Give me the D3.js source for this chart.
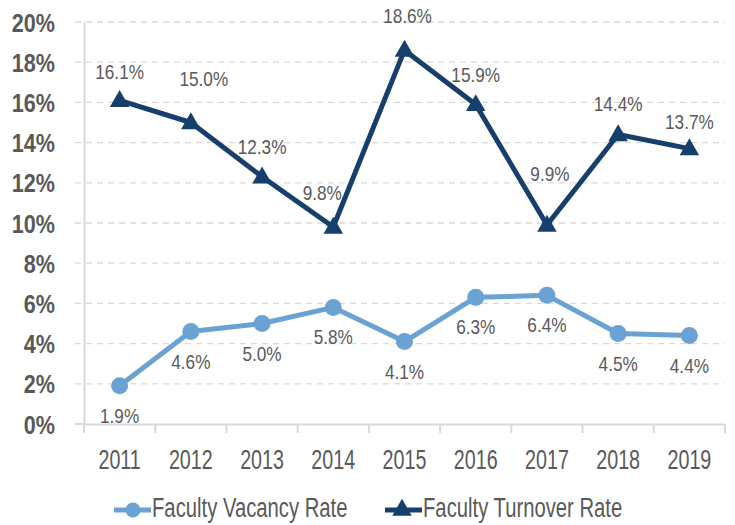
<!DOCTYPE html>
<html>
<head>
<meta charset="utf-8">
<script src="https://cdn.jsdelivr.net/npm/d3@7"></script>
<style>
  body { margin: 0; background: #fff; }
  text { font-family: "Liberation Sans", Arial, sans-serif; fill: #595959; }
</style>
</head>
<body>
<svg id="chart"></svg>
<script>
var years = ["2011", "2012", "2013", "2014", "2015", "2016", "2017", "2018", "2019"];
var vacancy = [1.9, 4.6, 5.0, 5.8, 4.1, 6.3, 6.4, 4.5, 4.4];
var turnover = [16.1, 15.0, 12.3, 9.8, 18.6, 15.9, 9.9, 14.4, 13.7];
var yTicks = [0, 2, 4, 6, 8, 10, 12, 14, 16, 18, 20];
var seriesNames = ["Faculty Vacancy Rate", "Faculty Turnover Rate"];

//hand-moved labels in the original (dx, dy in px)
var turnoverNudge = [[0, 1], [13, -15], [0, -1], [-11, -5], [3, -5], [0, 0], [3, -22], [0, -2], [0, 2]];

var screen = { width: 735, height: 525 };
var margins = { top: 22, bottom: 101, left: 84, right: 10 };
var graph = {
  width: screen.width - margins.left - margins.right,
  height: screen.height - margins.top - margins.bottom
};

var light = "#6aa2d3";
var dark = "#163f6c";
var grey = "#d9d9d9";

var svg = d3.select("#chart").attr("width", screen.width).attr("height", screen.height);
var g = svg.append("g").attr("transform", "translate(" + margins.left + "," + margins.top + ")");

var x = d3.scaleBand().domain(years).range([0, graph.width]);
var y = d3.scaleLinear().domain([0, 20]).range([graph.height, 0]);
var cx = function (i) { return x(years[i]) + x.bandwidth() / 2; };

//gridlines//
g.selectAll(".grid")
  .data(yTicks.slice(1))
  .enter()
  .append("line")
  .attr("x1", -9)
  .attr("x2", graph.width)
  .attr("y1", function (d) { return y(d); })
  .attr("y2", function (d) { return y(d); })
  .attr("stroke", grey)
  .attr("stroke-width", 1.3)
  .attr("stroke-dasharray", "6,5");

//y axis//
var ySx = 0.83;
var yAxis = d3.axisLeft(y).tickValues(yTicks).tickSize(0).tickPadding(29)
  .tickFormat(function (d) { return d + "%"; });
var yG = g.append("g").call(yAxis);
yG.select(".domain").attr("stroke", grey).attr("stroke-width", 2);
yG.selectAll("text")
  .style("font-size", "26px")
  .style("font-weight", "bold")
  .style("font-family", null)
  .attr("fill", "#595959")
  .attr("dy", "0.35em")
  .attr("x", -29 / ySx)
  .attr("transform", "scale(" + ySx + ",1)");
g.append("line").attr("x1", -9).attr("x2", 0).attr("y1", graph.height).attr("y2", graph.height)
  .attr("stroke", grey).attr("stroke-width", 2);

//x axis//
var xSx = 0.73;
var xAxis = d3.axisBottom(x).tickSize(0).tickPadding(26);
var xG = g.append("g").attr("transform", "translate(0," + graph.height + ")").call(xAxis);
xG.select(".domain").attr("stroke", grey).attr("stroke-width", 2);
xG.selectAll("text")
  .style("font-size", "27px")
  .attr("fill", "#595959")
  .attr("transform", "scale(" + xSx + ",1)");
xG.selectAll(".xtick")
  .data(d3.range(years.length + 1))
  .enter()
  .append("line")
  .attr("x1", function (i) { return i * x.bandwidth(); })
  .attr("x2", function (i) { return i * x.bandwidth(); })
  .attr("y1", 0)
  .attr("y2", 9)
  .attr("stroke", grey)
  .attr("stroke-width", 2);
svg.selectAll(".domain").attr("fill", "none");
svg.selectAll(".tick text").style("font-family", "'Liberation Sans', Arial, sans-serif");

var line = d3.line()
  .x(function (d, i) { return cx(i); })
  .y(function (d) { return y(d); });

var tri = d3.symbol().type(d3.symbolTriangle).size(165);
var labSx = 0.86;

var addLabels = function (data, base, nudge) {
  var lab = g.append("g").selectAll("g").data(data).enter().append("g")
    .attr("transform", function (d, i) {
      var n = nudge ? nudge[i] : [0, 0];
      return "translate(" + (cx(i) + n[0]) + "," + (y(d) + base + n[1]) + ")";
    });
  lab.append("text")
    .attr("dy", "0.35em")
    .attr("text-anchor", "middle")
    .attr("transform", "scale(" + labSx + ",1)")
    .style("font-size", "20px")
    .text(function (d) { return d.toFixed(1) + "%"; });
};

//vacancy series//
g.append("path").datum(vacancy).attr("d", line).attr("fill", "none")
  .attr("stroke", light).attr("stroke-width", 5).attr("stroke-linejoin", "round");
g.selectAll(".vdot").data(vacancy).enter().append("circle")
  .attr("cx", function (d, i) { return cx(i); })
  .attr("cy", function (d) { return y(d); })
  .attr("r", 8.5).attr("fill", light);
addLabels(vacancy, 30, null);

//turnover series//
g.append("path").datum(turnover).attr("d", line).attr("fill", "none")
  .attr("stroke", dark).attr("stroke-width", 5).attr("stroke-linejoin", "round");
g.selectAll(".tmark").data(turnover).enter().append("path")
  .attr("d", tri)
  .attr("transform", function (d, i) {
    return "translate(" + cx(i) + "," + (y(d) + 1) + ")";
  })
  .attr("fill", dark);
addLabels(turnover, -29, turnoverNudge);

//legend//
var legSx = 0.75;
var legend = svg.append("g").attr("transform", "translate(0,510)");
var items = [
  { name: seriesNames[0], color: light, x: 114, mark: "circle" },
  { name: seriesNames[1], color: dark, x: 385, mark: "tri" }
];
items.forEach(function (it) {
  var lg = legend.append("g").attr("transform", "translate(" + it.x + ",0)");
  lg.append("line").attr("x1", 0).attr("x2", 37).attr("stroke", it.color).attr("stroke-width", 5);
  if (it.mark === "circle") {
    lg.append("circle").attr("cx", 19).attr("r", 7.5).attr("fill", it.color);
  } else {
    lg.append("path").attr("d", tri).attr("transform", "translate(17,0)").attr("fill", it.color);
  }
  lg.append("text")
    .attr("transform", "translate(38,-2) scale(" + legSx + ",1)")
    .attr("dy", "0.35em")
    .style("font-size", "27px")
    .text(it.name);
});
</script>
</body>
</html>
